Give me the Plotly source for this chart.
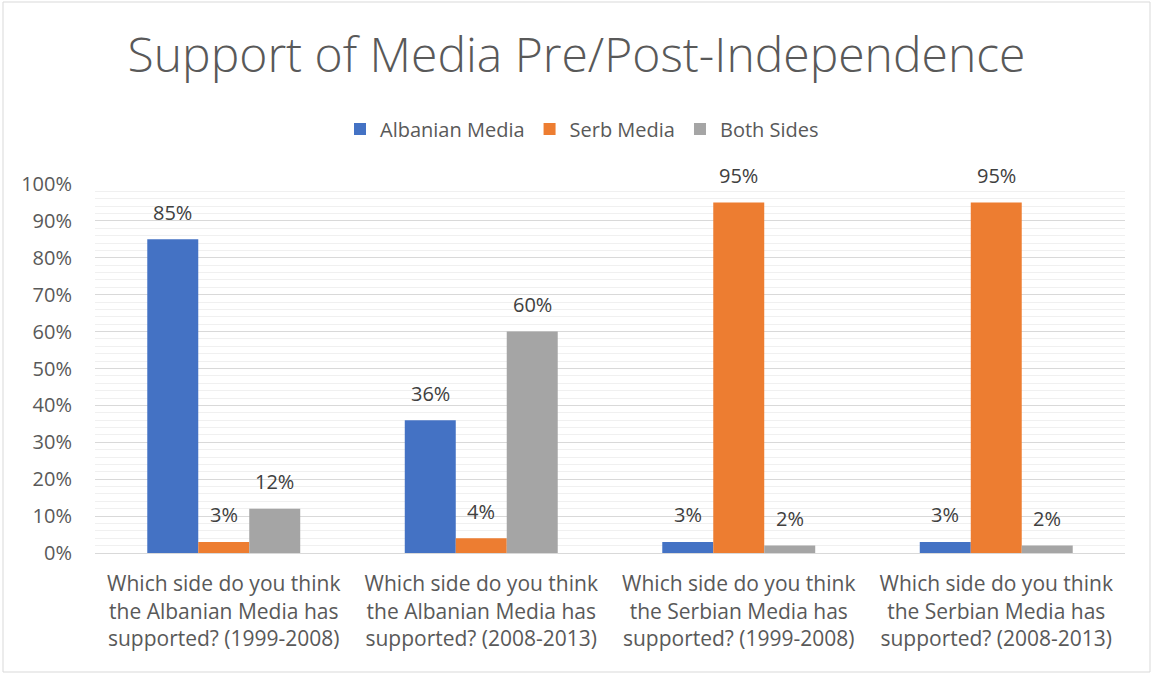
import plotly.graph_objects as go

# Survey questions (x categories) and percentage answers per series
categories = [
    "Which side do you think<br>the Albanian Media has<br>supported? (1999-2008)",
    "Which side do you think<br>the Albanian Media has<br>supported? (2008-2013)",
    "Which side do you think<br>the Serbian Media has<br>supported? (1999-2008)",
    "Which side do you think<br>the Serbian Media has<br>supported? (2008-2013)",
]
albanian_media = [0.85, 0.36, 0.03, 0.03]
serb_media = [0.03, 0.04, 0.95, 0.95]
both_sides = [0.12, 0.60, 0.02, 0.02]

series = [
    ("Albanian Media", albanian_media, "#4472C4"),
    ("Serb Media", serb_media, "#ED7D31"),
    ("Both Sides", both_sides, "#A5A5A5"),
]

FONT = "Open Sans"
TEXT = "#595959"

W, H = 1153, 675
L, R, T, B = 95, 28, 184, 122
pw, ph = W - L - R, H - T - B
BARGAP = 0.406
group_px = pw / len(categories)
bar_px = group_px * (1 - BARGAP) / len(series)

fig = go.Figure()
for name, vals, color in series:
    fig.add_trace(go.Bar(
        name=name,
        x=categories,
        y=vals,
        marker=dict(color=color, line=dict(width=0)),
    ))

# Value labels above each bar
for i, (name, vals, color) in enumerate(series):
    for c, v in zip(categories, vals):
        fig.add_annotation(
            x=c, y=v, xref="x", yref="y",
            text=f"{v:.0%}", showarrow=False,
            xshift=(i - (len(series) - 1) / 2) * bar_px,
            yanchor="middle", yshift=27,
            font=dict(family=FONT, size=20, color="#404040"),
        )

fig.update_layout(
    width=W, height=H,
    margin=dict(l=L, r=R, t=T, b=B),
    paper_bgcolor="white", plot_bgcolor="white",
    barmode="group",
    bargap=BARGAP, bargroupgap=0,
    title=dict(
        text="Support of Media Pre/Post-Independence",
        x=0.5, xanchor="center", y=1 - 55 / H, yanchor="middle",
        font=dict(family=FONT, size=48, color=TEXT, weight=300),
    ),
    legend=dict(
        orientation="h", x=0.5 - 28 / pw, xanchor="center",
        y=1 + (T - 129) / ph, yanchor="middle",
        font=dict(family=FONT, size=20, color=TEXT),
        itemwidth=30, traceorder="normal",
    ),
    showlegend=True,
)

fig.update_yaxes(
    range=[0, 1.0], dtick=0.1, tickformat=".0%",
    showgrid=True, gridcolor="#D9D9D9", gridwidth=1,
    minor=dict(dtick=0.02, showgrid=True, gridcolor="#F0F0F0", gridwidth=1),
    zeroline=False, showline=False,
    tickfont=dict(family=FONT, size=20, color=TEXT),
    ticks="", ticklen=0, ticklabelstandoff=22,
)
fig.update_xaxes(
    showline=True, linecolor="#D9D9D9", linewidth=1,
    tickfont=dict(family=FONT, size=21, color=TEXT),
    ticks="", tickangle=0, ticklabelstandoff=12,
)

# Outer chart border
fig.add_shape(
    type="rect", xref="paper", yref="paper",
    x0=(3 - L) / pw, x1=(1150 - L) / pw,
    y0=(H - B - 672) / ph, y1=(H - B - 2) / ph,
    line=dict(color="#D9D9D9", width=1), fillcolor="rgba(0,0,0,0)",
    layer="below",
)

fig.write_html("out.html")
